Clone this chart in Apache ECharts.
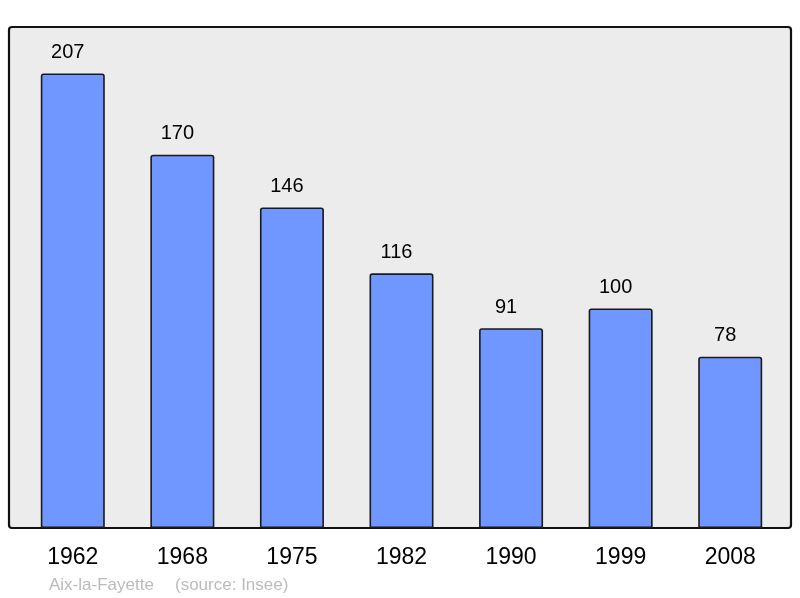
<!DOCTYPE html>
<html>
<head>
<meta charset="utf-8">
<script src="https://cdn.jsdelivr.net/npm/echarts@6/dist/echarts.min.js"></script>
<style>html,body{margin:0;padding:0;background:#fff}#c{width:800px;height:598px}</style>
</head>
<body>
<div id="c"></div>
<script>
const years = ['1962', '1968', '1975', '1982', '1990', '1999', '2008'];
const population = [207, 170, 146, 116, 91, 100, 78];
const townName = 'Aix-la-Fayette';
const sourceNote = '(source: Insee)';

const chart = echarts.init(document.getElementById('c'), null, {renderer: 'canvas'});
const FONT = '"Liberation Sans", Arial, sans-serif';
chart.setOption({
  animation: false,
  backgroundColor: '#ffffff',
  graphic: [
    {type: 'rect', z: -10, shape: {x: 9, y: 27, width: 782, height: 501, r: 3},
     style: {fill: '#ececec', stroke: '#111111', lineWidth: 2.2}},
    {type: 'text', left: 49, top: 577, style: {text: townName, fill: '#bbbbbb', font: '17px ' + FONT}},
    {type: 'text', left: 175, top: 577, style: {text: sourceNote, fill: '#bbbbbb', font: '17px ' + FONT}}
  ],
  grid: {left: 18, top: 28, width: 767, height: 500},
  xAxis: {
    type: 'category', data: years,
    axisLine: {show: false}, axisTick: {show: false}, splitLine: {show: false},
    axisLabel: {fontSize: 23, color: '#000', fontFamily: FONT, margin: 18.5}
  },
  yAxis: {type: 'value', min: 0, max: 227.7, show: false, splitLine: {show: false}},
  series: [{
    type: 'bar', data: population, barWidth: 64,
    itemStyle: {color: '#7096ff', borderColor: '#1a1a1a', borderWidth: 1.6, borderRadius: [2, 2, 0, 0]},
    label: {show: true, position: 'top', distance: 11, offset: [-5, 0], fontSize: 20, color: '#000', fontFamily: FONT}
  }]
});
</script>
</body>
</html>
